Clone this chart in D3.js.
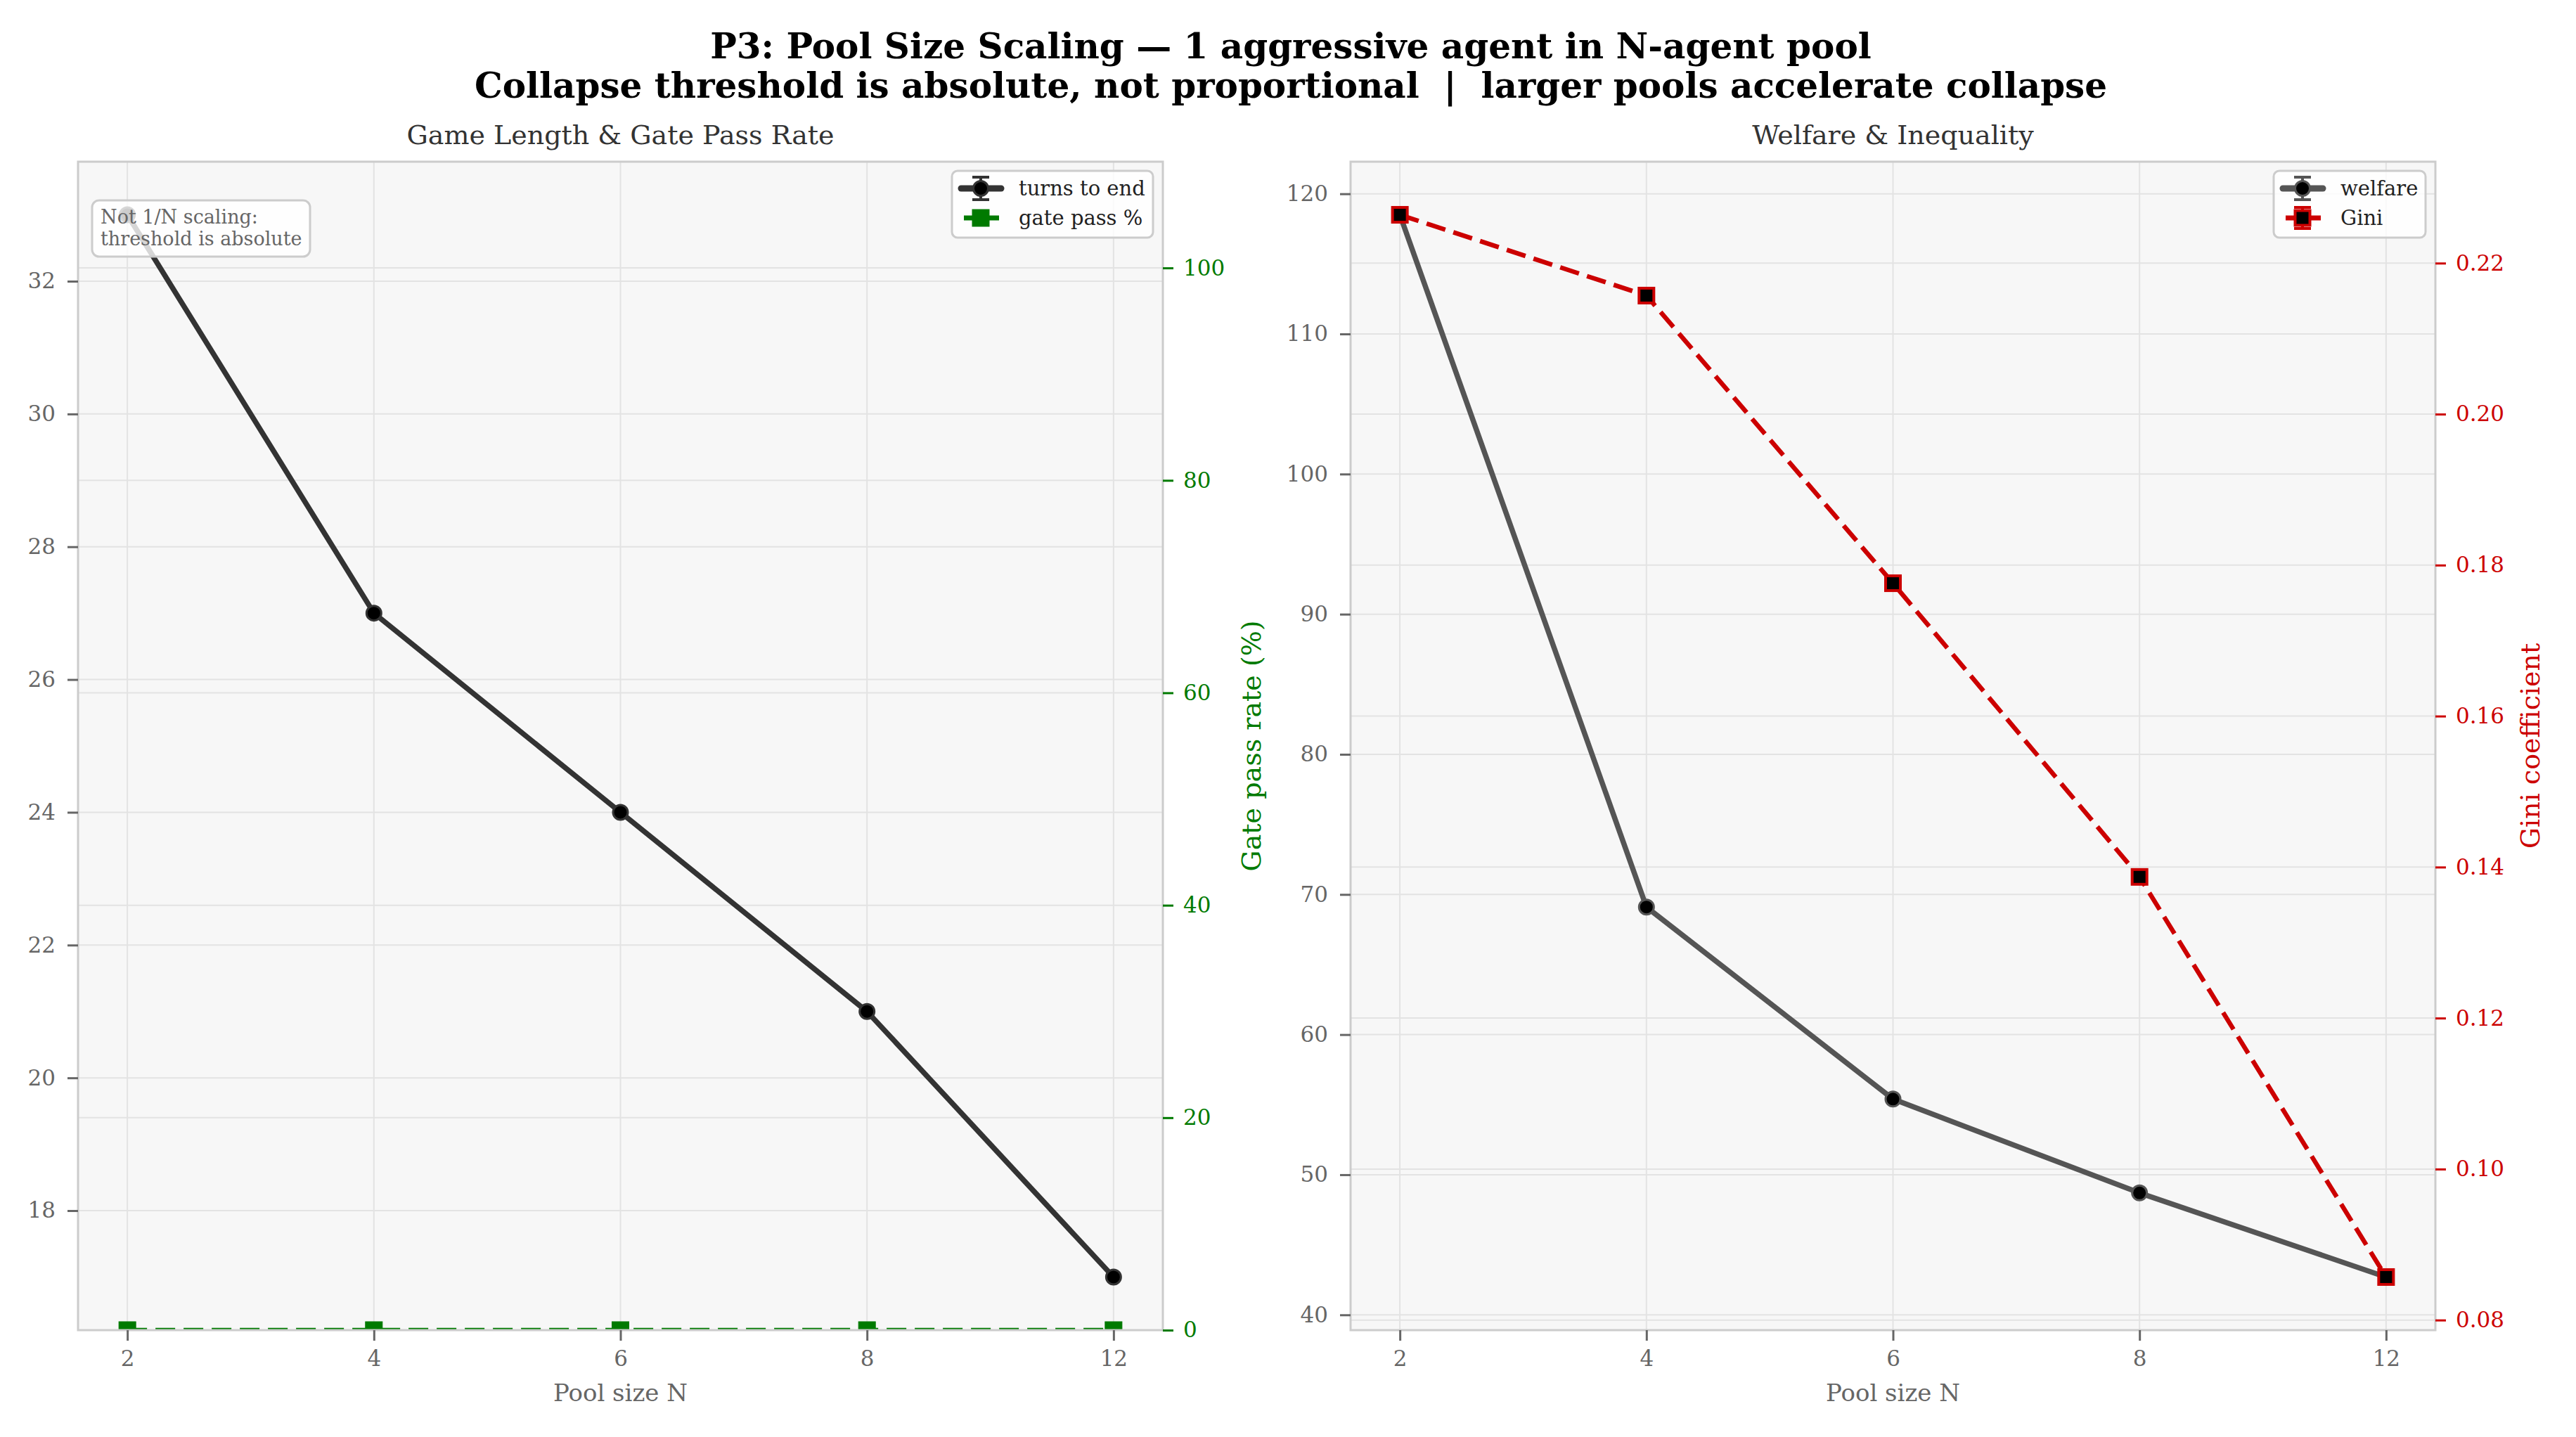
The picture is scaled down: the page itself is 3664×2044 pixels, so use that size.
<!DOCTYPE html>
<html>
<head>
<meta charset="utf-8">
<script src="https://cdn.jsdelivr.net/npm/d3@7"></script>
<style>
  body { margin: 0; background: #fff; }
  svg { display: block; }
  text { font-family: 'DejaVu Serif', serif; }
</style>
</head>
<body>
<svg width="3664" height="2044"></svg>
<script>
// data
const poolSizes = [2, 4, 6, 8, 12];
const turnsToEnd = [33, 27, 24, 21, 17];
const gatePassPct = [0, 0, 0, 0, 0];
const welfare = [118.5, 69.1, 55.4, 48.7, 42.7];
const gini = [0.2264, 0.2157, 0.1776, 0.1387, 0.0857];

const turnsTicks = [18, 20, 22, 24, 26, 28, 30, 32];
const gateTicks = [0, 20, 40, 60, 80, 100];
const welfareTicks = [40, 50, 60, 70, 80, 90, 100, 110, 120];
const giniTicks = [0.08, 0.10, 0.12, 0.14, 0.16, 0.18, 0.20, 0.22];

const svg = d3.select('svg');
const plotTop = 230, plotBottom = 1892;
const panels = [
  { x0: 111, x1: 1654, id: 'a' },
  { x0: 1921, x1: 3464, id: 'b' }
];
const gridColor = '#e3e3e3';
const tickGray = '#666';

// auto margin like matplotlib (5%)
const pad = function (vals) {
  const e = d3.extent(vals);
  const m = (e[1] - e[0]) * 0.05;
  return [e[0] - m, e[1] + m];
};

const styleAxis = function (g, color, size) {
  g.select('.domain').remove();
  g.selectAll('.tick line').attr('stroke', color).attr('stroke-width', 3);
  g.selectAll('.tick text')
    .attr('fill', color)
    .style('font-family', 'DejaVu Serif')
    .style('font-size', (size || 31) + 'px');
};

// suptitle
svg.append('text')
  .attr('x', 1836).attr('y', 83)
  .attr('text-anchor', 'middle')
  .style('font-size', '50px').style('font-weight', 'bold')
  .text('P3: Pool Size Scaling \u2014 1 aggressive agent in N-agent pool');
svg.append('text')
  .attr('x', 1836).attr('y', 139)
  .attr('text-anchor', 'middle')
  .style('font-size', '50px').style('font-weight', 'bold')
  .style('white-space', 'pre')
  .text('Collapse threshold is absolute, not proportional  |  larger pools accelerate collapse');

const drawPanel = function (p, cfg) {
  const g = svg.append('g');
  const x = d3.scalePoint().domain(poolSizes).range([p.x0, p.x1]).padding(0.2);
  const y1 = d3.scaleLinear().domain(cfg.dom1).range([plotBottom, plotTop]);
  const y2 = d3.scaleLinear().domain(cfg.dom2).range([plotBottom, plotTop]);

  svg.append('clipPath').attr('id', 'clip' + p.id)
    .append('rect')
    .attr('x', p.x0).attr('y', plotTop)
    .attr('width', p.x1 - p.x0).attr('height', plotBottom - plotTop);

  g.append('rect')
    .attr('x', p.x0).attr('y', plotTop)
    .attr('width', p.x1 - p.x0).attr('height', plotBottom - plotTop)
    .attr('fill', '#f7f7f7');

  // grids
  g.append('g').selectAll('line').data(poolSizes).join('line')
    .attr('x1', d => x(d)).attr('x2', d => x(d))
    .attr('y1', plotTop).attr('y2', plotBottom)
    .attr('stroke', gridColor).attr('stroke-width', 2);
  g.append('g').selectAll('line').data(cfg.ticks1).join('line')
    .attr('x1', p.x0).attr('x2', p.x1)
    .attr('y1', d => y1(d)).attr('y2', d => y1(d))
    .attr('stroke', gridColor).attr('stroke-width', 2);
  g.append('g').selectAll('line').data(cfg.ticks2).join('line')
    .attr('x1', p.x0).attr('x2', p.x1)
    .attr('y1', d => y2(d)).attr('y2', d => y2(d))
    .attr('stroke', gridColor).attr('stroke-width', 2);

  const plot = g.append('g').attr('clip-path', 'url(#clip' + p.id + ')');

  // primary series
  const line1 = d3.line().x((d, i) => x(poolSizes[i])).y(d => y1(d));
  plot.append('path').datum(cfg.v1)
    .attr('d', line1).attr('fill', 'none')
    .attr('stroke', cfg.c1).attr('stroke-width', 7.5)
    .attr('stroke-linejoin', 'round');
  plot.append('g').selectAll('circle').data(cfg.v1).join('circle')
    .attr('cx', (d, i) => x(poolSizes[i])).attr('cy', d => y1(d))
    .attr('r', 10.5).attr('fill', '#000')
    .attr('stroke', cfg.c1).attr('stroke-width', 3);

  // twin series
  const line2 = d3.line().x((d, i) => x(poolSizes[i])).y(d => y2(d));
  plot.append('path').datum(cfg.v2)
    .attr('d', line2).attr('fill', 'none')
    .attr('stroke', cfg.c2).attr('stroke-width', 6.5)
    .attr('stroke-dasharray', '28,12');
  plot.append('g').selectAll('rect').data(cfg.v2).join('rect')
    .attr('x', (d, i) => x(poolSizes[i]) - cfg.sq / 2)
    .attr('y', d => y2(d) - cfg.sq / 2)
    .attr('width', cfg.sq).attr('height', cfg.sq)
    .attr('fill', cfg.sqFill)
    .attr('stroke', cfg.c2).attr('stroke-width', cfg.sqStroke);

  // spines
  g.append('rect')
    .attr('x', p.x0).attr('y', plotTop)
    .attr('width', p.x1 - p.x0).attr('height', plotBottom - plotTop)
    .attr('fill', 'none').attr('stroke', '#cccccc').attr('stroke-width', 3);

  // axes
  g.append('g').attr('transform', `translate(0,${plotBottom})`)
    .call(d3.axisBottom(x).tickSize(15).tickPadding(14))
    .call(a => styleAxis(a, tickGray));
  g.append('g').attr('transform', `translate(${p.x0},0)`)
    .call(d3.axisLeft(y1).tickValues(cfg.ticks1).tickSize(15).tickPadding(17))
    .call(a => styleAxis(a, tickGray));
  g.append('g').attr('transform', `translate(${p.x1},0)`)
    .call(d3.axisRight(y2).tickValues(cfg.ticks2).tickFormat(cfg.fmt2).tickSize(15).tickPadding(14))
    .call(a => styleAxis(a, cfg.axisColor2));

  const cx = (p.x0 + p.x1) / 2;
  g.append('text')
    .attr('x', cx).attr('y', 205)
    .attr('text-anchor', 'middle')
    .attr('fill', '#333').style('font-size', '38px')
    .text(cfg.title);
  g.append('text')
    .attr('x', cx).attr('y', 1993)
    .attr('text-anchor', 'middle')
    .attr('fill', tickGray).style('font-size', '34px')
    .text('Pool size N');
  g.append('text')
    .attr('transform', `translate(${cfg.labelX},${(plotTop + plotBottom) / 2}) rotate(-90)`)
    .attr('text-anchor', 'middle')
    .attr('fill', cfg.axisColor2).style('font-size', '38px')
    .text(cfg.label2);

  // legend
  const lw = cfg.legendW;
  const lx = p.x1 - 14 - lw;
  const lg = g.append('g');
  lg.append('rect')
    .attr('x', lx).attr('y', 243).attr('width', lw).attr('height', 95)
    .attr('rx', 8).attr('fill', '#ffffff').attr('fill-opacity', 0.8)
    .attr('stroke', '#cccccc').attr('stroke-width', 3);
  const hx = lx + 9, mx = lx + 41;
  const rows = [268, 310];
  // row 1: errorbar handle
  lg.append('line').attr('x1', hx + 4).attr('x2', hx + 61)
    .attr('y1', rows[0]).attr('y2', rows[0])
    .attr('stroke', cfg.c1).attr('stroke-width', 9).attr('stroke-linecap', 'round');
  lg.append('line').attr('x1', mx).attr('x2', mx)
    .attr('y1', rows[0] - 16).attr('y2', rows[0] + 16)
    .attr('stroke', cfg.c1).attr('stroke-width', 4);
  [-16, 16].forEach(function (o) {
    lg.append('line').attr('x1', mx - 12).attr('x2', mx + 12)
      .attr('y1', rows[0] + o).attr('y2', rows[0] + o)
      .attr('stroke', cfg.c1).attr('stroke-width', 4);
  });
  lg.append('circle').attr('cx', mx).attr('cy', rows[0]).attr('r', 10.5)
    .attr('fill', '#000').attr('stroke', cfg.c1).attr('stroke-width', 3);
  // row 2
  lg.append('line').attr('x1', hx + 8).attr('x2', hx + 58)
    .attr('y1', rows[1]).attr('y2', rows[1])
    .attr('stroke', cfg.c2).attr('stroke-width', 7);
  if (cfg.caps2) {
    lg.append('line').attr('x1', mx).attr('x2', mx)
      .attr('y1', rows[1] - 15).attr('y2', rows[1] + 15)
      .attr('stroke', cfg.c2).attr('stroke-width', 4);
    [-15, 15].forEach(function (o) {
      lg.append('line').attr('x1', mx - 12).attr('x2', mx + 12)
        .attr('y1', rows[1] + o).attr('y2', rows[1] + o)
        .attr('stroke', cfg.c2).attr('stroke-width', 4);
    });
  }
  lg.append('rect')
    .attr('x', mx - cfg.sq / 2).attr('y', rows[1] - cfg.sq / 2)
    .attr('width', cfg.sq).attr('height', cfg.sq)
    .attr('fill', cfg.sqFill).attr('stroke', cfg.c2).attr('stroke-width', cfg.sqStroke);
  cfg.names.forEach(function (n, i) {
    lg.append('text')
      .attr('x', lx + 95).attr('y', rows[i]).attr('dy', '0.35em')
      .attr('fill', '#222').style('font-size', '29px')
      .text(n);
  });

  return { x: x, y1: y1, g: g };
};

const left = drawPanel(panels[0], {
  dom1: pad(turnsToEnd), dom2: [0, 110],
  ticks1: turnsTicks, ticks2: gateTicks,
  v1: turnsToEnd, v2: gatePassPct,
  c1: '#333333', c2: '#007a00', axisColor2: '#007a00',
  sq: 24, sqFill: '#007a00', sqStroke: 1,
  fmt2: d3.format('d'),
  title: 'Game Length & Gate Pass Rate',
  label2: 'Gate pass rate (%)', labelX: 1793,
  legendW: 286, names: ['turns to end', 'gate pass %'], caps2: false
});

drawPanel(panels[1], {
  dom1: pad(welfare), dom2: pad(gini),
  ticks1: welfareTicks, ticks2: giniTicks,
  v1: welfare, v2: gini,
  c1: '#555555', c2: '#cc0000', axisColor2: '#cc0000',
  sq: 21, sqFill: '#000000', sqStroke: 4,
  fmt2: d3.format('.2f'),
  title: 'Welfare & Inequality',
  label2: 'Gini coefficient', labelX: 3612,
  legendW: 216, names: ['welfare', 'Gini'], caps2: true
});

// annotation box on the left panel
const note = left.g.append('g');
note.append('rect')
  .attr('x', 131).attr('y', 285).attr('width', 310).attr('height', 80)
  .attr('rx', 10).attr('fill', '#ffffff').attr('fill-opacity', 0.8)
  .attr('stroke', '#cccccc').attr('stroke-width', 3);
['Not 1/N scaling:', 'threshold is absolute'].forEach(function (t, i) {
  note.append('text')
    .attr('x', 143).attr('y', 318 + i * 31)
    .attr('fill', '#666').style('font-size', '27px')
    .text(t);
});
</script>
</body>
</html>
